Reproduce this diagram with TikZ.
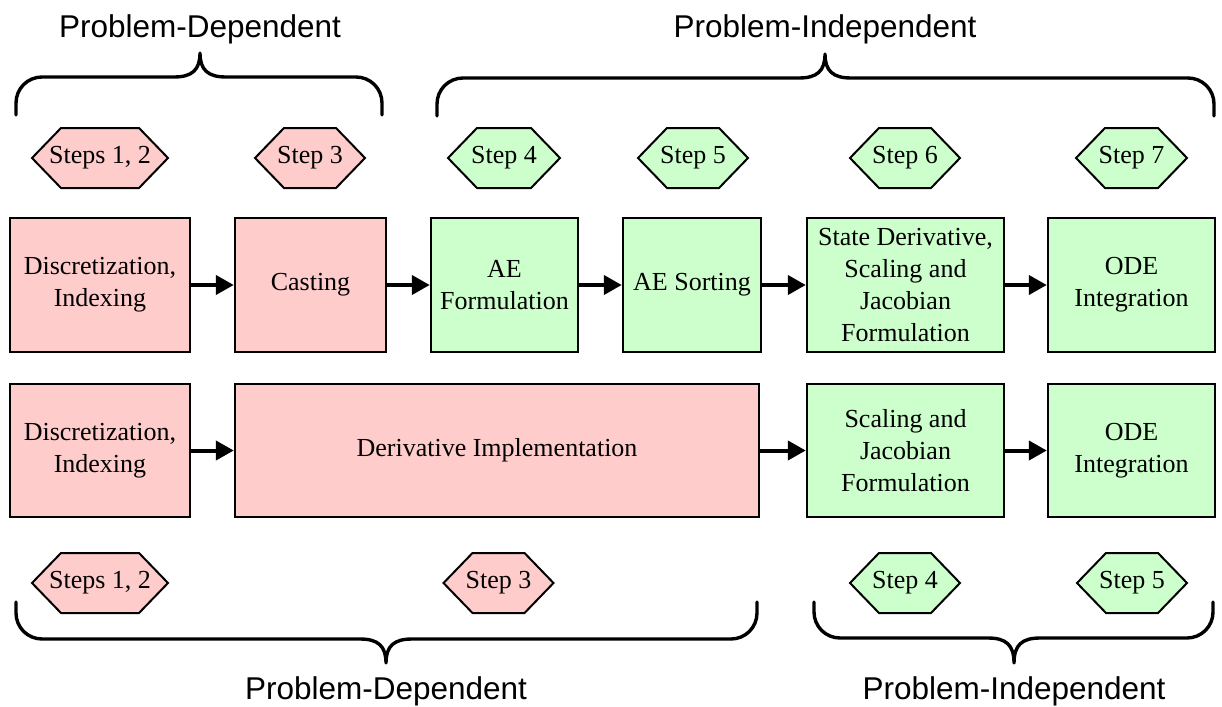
\documentclass[tikz,border=0pt]{standalone}
\usepackage{fontspec}
\setmainfont{Liberation Serif}
\newfontfamily\labelfont{Liberation Sans}
\usetikzlibrary{arrows.meta}
\definecolor{pinkfill}{HTML}{FFCCCC}
\definecolor{greenfill}{HTML}{CCFFCC}
\tikzset{
  boxstyle/.style={draw=black, line width=2.4pt, rectangle, inner sep=0pt, align=center,
    font=\fontsize{26}{32}\selectfont},
  pinkbox/.style={boxstyle, fill=pinkfill},
  greenbox/.style={boxstyle, fill=greenfill},
  hexline/.style={draw=black, line width=2pt, line join=miter},
  hextext/.style={inner sep=0pt, font=\fontsize{26}{30}\selectfont},
  flowarrow/.style={line width=4pt, -{Triangle[length=18pt,width=19pt]}},
  bracestyle/.style={line width=3.4pt, line cap=round, line join=round},
  bracelabel/.style={font=\labelfont\fontsize{31.5}{36}\selectfont, anchor=base, inner sep=0pt}
}
% name, cx, cy, half width, fill colour, text
\newcommand{\hexstep}[6]{%
  \path[hexline, fill=#5] ({#2-#4},#3) -- ({#2-#4+29},{#3-30}) -- ({#2+#4-29},{#3-30})
     -- ({#2+#4},#3) -- ({#2+#4-29},{#3+30}) -- ({#2-#4+29},{#3+30}) -- cycle;
  \node[hextext] (#1) at (#2,#3) {#6};}
\begin{document}
\begin{tikzpicture}[x=1pt, y=-1pt]
\useasboundingbox (0,0) rectangle (1222,706);

% brace labels
\node[bracelabel] (ltop1) at (200,38) {Problem-Dependent};
\node[bracelabel] (ltop2) at (825,38) {Problem-Independent};
\node[bracelabel] (lbot1) at (386,699) {Problem-Dependent};
\node[bracelabel] (lbot2) at (1014,699) {Problem-Independent};

% top braces (opening downwards)
\draw[bracestyle] (16,115) -- (16,103) .. controls (16,88.6) and (27.6,77) .. (42,77)
  -- (174,77) .. controls (192,77) and (200,70) .. (200,53)
  .. controls (200,70) and (208,77) .. (226,77) -- (356,77)
  .. controls (370.4,77) and (382,88.6) .. (382,103) -- (382,115);
\draw[bracestyle] (437,116) -- (437,104) .. controls (437,89.6) and (448.6,78) .. (463,78)
  -- (799,78) .. controls (817,78) and (825,71) .. (825,54)
  .. controls (825,71) and (833,78) .. (851,78) -- (1188,78)
  .. controls (1202.4,78) and (1214,89.6) .. (1214,104) -- (1214,116);
% bottom braces (opening upwards)
\draw[bracestyle] (16,602) -- (16,613) .. controls (16,627.4) and (27.6,639) .. (42,639)
  -- (360,639) .. controls (378,639) and (386,646) .. (386,663)
  .. controls (386,646) and (394,639) .. (412,639) -- (731,639)
  .. controls (745.4,639) and (757,627.4) .. (757,613) -- (757,602);
\draw[bracestyle] (814,602) -- (814,612) .. controls (814,626.4) and (825.6,638) .. (840,638)
  -- (988,638) .. controls (1006,638) and (1014,645) .. (1014,663)
  .. controls (1014,645) and (1022,638) .. (1040,638) -- (1187,638)
  .. controls (1201.4,638) and (1213,626.4) .. (1213,612) -- (1213,602);

% step hexagons
\hexstep{h1}{100}{158}{68}{pinkfill}{Steps 1, 2}
\hexstep{h2}{310}{158}{55}{pinkfill}{Step 3}
\hexstep{h3}{504}{158}{56}{greenfill}{Step 4}
\hexstep{h4}{693}{158}{55}{greenfill}{Step 5}
\hexstep{h5}{905}{158}{55}{greenfill}{Step 6}
\hexstep{h6}{1131.5}{158}{55.5}{greenfill}{Step 7}
\hexstep{g1}{100}{583}{68}{pinkfill}{Steps 1, 2}
\hexstep{g2}{498.5}{583}{55}{pinkfill}{Step 3}
\hexstep{g3}{905}{583}{55}{greenfill}{Step 4}
\hexstep{g4}{1132}{583}{55}{greenfill}{Step 5}

% top row
\node[pinkbox, minimum width=180pt, minimum height=134pt] (b1) at (100,285) {Discretization,\\Indexing};
\node[pinkbox, minimum width=151pt, minimum height=134pt] (b2) at (310.5,285) {Casting};
\node[greenbox, minimum width=147pt, minimum height=134pt] (b3) at (504.5,285) {AE\\Formulation};
\node[greenbox, minimum width=138pt, minimum height=134pt] (b4) at (692,285) {AE Sorting};
\node[greenbox, minimum width=197pt, minimum height=134pt] (b5) at (905.5,285) {State Derivative,\\Scaling and\\Jacobian\\Formulation};
\node[greenbox, minimum width=167pt, minimum height=134pt] (b6) at (1131.5,285) {ODE\\Integration};

% bottom row
\node[pinkbox, minimum width=180pt, minimum height=133pt] (c1) at (100,450.5) {Discretization,\\Indexing};
\node[pinkbox, minimum width=524pt, minimum height=133pt] (c2) at (497,450.5) {Derivative Implementation};
\node[greenbox, minimum width=197pt, minimum height=133pt] (c3) at (905.5,450.5) {Scaling and\\Jacobian\\Formulation};
\node[greenbox, minimum width=167pt, minimum height=133pt] (c4) at (1131.5,450.5) {ODE\\Integration};

% arrows
\draw[flowarrow] (b1) -- (b2);
\draw[flowarrow] (b2) -- (b3);
\draw[flowarrow] (b3) -- (b4);
\draw[flowarrow] (b4) -- (b5);
\draw[flowarrow] (b5) -- (b6);
\draw[flowarrow] (c1) -- (c2);
\draw[flowarrow] (c2) -- (c3);
\draw[flowarrow] (c3) -- (c4);
\end{tikzpicture}
\end{document}
